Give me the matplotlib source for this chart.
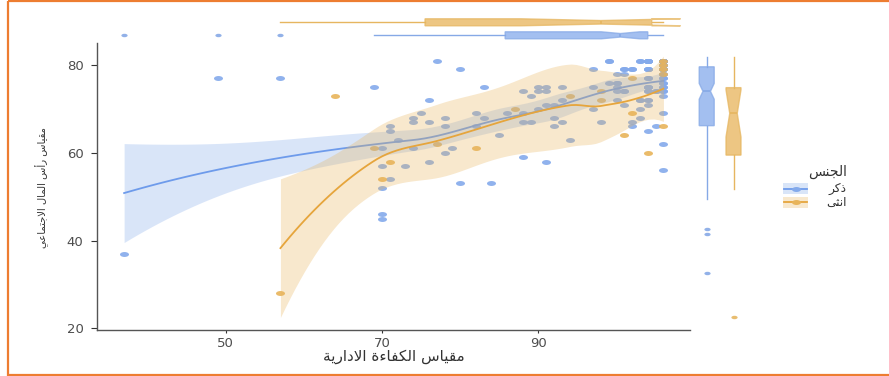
import numpy as np
import matplotlib
matplotlib.use("Agg")
import matplotlib.pyplot as plt
from matplotlib.path import Path
from matplotlib.patches import Rectangle
from matplotlib.lines import Line2D

# ---------------- data ----------------
X_LABEL = "مقياس الكفاءة الادارية"
Y_LABEL = "مقياس رأس المال الاجتماعي"
LEGEND_TITLE = "الجنس"
GROUP_LABELS = ["ذكر", "انثى"]

X_TICKS = [50, 70, 90]
Y_TICKS = [20, 40, 60, 80]

male_x = [37, 49, 57, 69, 70, 70, 70, 70, 70, 71, 71, 71, 72, 73, 74, 74, 74, 75, 76, 76,
          76, 77, 78, 78, 78, 79, 80, 80, 82, 82, 83, 83, 84, 85, 86, 88, 88, 88, 88, 89,
          89, 90, 90, 90, 91, 91, 91, 91, 92, 92, 92, 93, 93, 93, 94, 97, 97, 97, 98, 99,
          99, 100, 100, 100, 100, 100, 101, 101, 101, 101, 102, 102, 102, 103, 103, 103, 103, 104, 104, 104,
          104, 104, 104, 104, 104, 105, 105, 106, 106, 106, 106, 106, 106, 106, 106, 106,
          # overlapping (hidden) points in the dense upper-right corner
          106, 106, 106, 106, 106, 106, 106, 106, 106, 106, 106, 106, 106, 106, 106, 106, 106,
          104, 104, 104, 104, 103, 104, 104,
          99, 101, 102, 104, 104, 104, 106, 106, 106, 106, 104, 105, 100, 103, 104, 101]
male_y = [37, 77, 77, 75, 46, 45, 52, 57, 61, 66, 65, 54, 63, 57, 68, 67, 61, 69, 67, 58,
          72, 81, 68, 66, 60, 61, 79, 53, 69, 66, 75, 68, 53, 64, 69, 74, 69, 67, 59, 73,
          67, 75, 74, 70, 75, 74, 71, 58, 71, 68, 66, 75, 72, 67, 63, 79, 75, 70, 67, 81,
          76, 78, 76, 75, 74, 72, 79, 78, 74, 71, 79, 67, 66, 81, 72, 70, 68, 81, 79, 77,
          75, 74, 72, 71, 65, 74, 66, 81, 77, 76, 75, 74, 73, 69, 62, 56,
          81, 81, 81, 81, 81, 81, 81, 81, 80, 80, 80, 79, 79, 79, 79, 78, 78,
          81, 81, 81, 81, 81, 79, 79,
          81, 79, 79, 77, 75, 75, 77, 76, 75, 74, 74, 74, 76, 72, 72, 74]

female_x = [57, 64, 69, 70, 71, 77, 82, 87, 94, 98, 98, 101, 102, 102, 104, 106, 106, 106, 106, 106]
female_y = [28, 73, 61, 54, 58, 62, 61, 70, 73, 74, 72, 64, 77, 69, 60, 80, 79, 78, 66, 81]

# ---------------- style ----------------
BLUE = "#84AAEB"
BLUE_LINE = "#6E9BEB"
BLUE_BOX_EDGE = "#86A9E6"
ORANGE = "#E8B45A"
ORANGE_LINE = "#E6A53C"
ORANGE_BOX_EDGE = "#E6B660"
RIBBON_ALPHA = 0.3
BORDER = "#ED7D31"
TEXT = "#333333"
W, H = 889, 376

# ---------------- arabic shaping (presentation forms, visual order) ----------------
FOUR = {0x0626: 0xFE89, 0x0628: 0xFE8F, 0x062A: 0xFE95, 0x062B: 0xFE99, 0x062C: 0xFE9D,
        0x062D: 0xFEA1, 0x062E: 0xFEA5, 0x0633: 0xFEB1, 0x0634: 0xFEB5, 0x0635: 0xFEB9,
        0x0636: 0xFEBD, 0x0637: 0xFEC1, 0x0638: 0xFEC5, 0x0639: 0xFEC9, 0x063A: 0xFECD,
        0x0641: 0xFED1, 0x0642: 0xFED5, 0x0643: 0xFED9, 0x0644: 0xFEDD, 0x0645: 0xFEE1,
        0x0646: 0xFEE5, 0x0647: 0xFEE9, 0x064A: 0xFEF1}
TWO = {0x0622: 0xFE81, 0x0623: 0xFE83, 0x0624: 0xFE85, 0x0625: 0xFE87, 0x0627: 0xFE8D,
       0x0629: 0xFE93, 0x062F: 0xFEA9, 0x0630: 0xFEAB, 0x0631: 0xFEAD, 0x0632: 0xFEAF,
       0x0648: 0xFEED}
LAM_ALEF = {0x0622: 0xFEF5, 0x0623: 0xFEF7, 0x0625: 0xFEF9, 0x0627: 0xFEFB}


def _dual(c):
    return ord(c) in FOUR or ord(c) == 0x0649


def _joining(c):
    return _dual(c) or ord(c) in TWO


def shape(s):
    out = []
    i = 0
    prev_join = False
    while i < len(s):
        c = s[i]
        o = ord(c)
        nxt = s[i + 1] if i + 1 < len(s) else None
        if o == 0x0644 and nxt is not None and ord(nxt) in LAM_ALEF:
            out.append(chr(LAM_ALEF[ord(nxt)] + (1 if prev_join else 0)))
            prev_join = False
            i += 2
            continue
        if _dual(c):
            nj = nxt is not None and _joining(nxt)
            idx = {(False, False): 0, (True, False): 1, (False, True): 2, (True, True): 3}[(prev_join, nj)]
            if o == 0x0649:
                out.append(chr([0xFEEF, 0xFEF0, 0xFBE8, 0xFBE9][idx]))
            else:
                out.append(chr(FOUR[o] + idx))
            prev_join = True
        elif o in TWO:
            out.append(chr(TWO[o] + (1 if prev_join else 0)))
            prev_join = False
        elif o == 0x0621:
            out.append("\uFE80")
            prev_join = False
        else:
            out.append(c)
            prev_join = False
        i += 1
    return "".join(reversed(out))


# ---------------- loess as in R (span .75, degree 2, kd-tree + cubic interpolation) ----------------
def local_rows(x, x0, q, degree=2):
    d = np.abs(x - x0)
    h = np.sort(d)[q - 1] + 1e-9
    u = d / h
    w = np.where(u < 1, (1 - u ** 3) ** 3, 0.0)
    X = np.vander(x - x0, degree + 1, increasing=True)
    XtW = X.T * w
    B = np.linalg.solve(XtW @ X, XtW)
    return B[0], B[1]          # value row, slope row


def kd_vertices(x, fc):
    xs = np.sort(x)
    n = len(xs)
    a0, b0 = xs[0], xs[-1]
    mg = 0.005 * max(b0 - a0, 1e-10 * max(abs(a0), abs(b0)) + 1e-30)
    verts = {a0 - mg, b0 + mg}
    stack = [(0, n - 1, a0 - mg, b0 + mg)]
    while stack:
        l, u, a, b = stack.pop()
        if (u - l + 1) <= fc:
            continue
        m = (l + u) // 2
        off = 0
        while True:
            if m + off >= u or m + off < l:
                break
            if xs[m + off] == xs[m + off + 1]:
                off = -off
                if off >= 0:
                    off += 1
            else:
                m = m + off
                break
        v = xs[m]
        if v == a or v == b:
            continue
        verts.add(v)
        stack.append((l, m, a, v))
        stack.append((m + 1, u, v, b))
    return np.array(sorted(verts))


def interp_rows(x, verts, VL, VS, xe):
    out = np.zeros((len(xe), len(x)))
    for k, x0 in enumerate(xe):
        j = int(np.clip(np.searchsorted(verts, x0, side="right") - 1, 0, len(verts) - 2))
        hh = verts[j + 1] - verts[j]
        t = (x0 - verts[j]) / hh
        h00 = 2 * t ** 3 - 3 * t ** 2 + 1
        h10 = t ** 3 - 2 * t ** 2 + t
        h01 = -2 * t ** 3 + 3 * t ** 2
        h11 = t ** 3 - t ** 2
        out[k] = h00 * VL[j] + h10 * hh * VS[j] + h01 * VL[j + 1] + h11 * hh * VS[j + 1]
    return out


def t975(df):
    z = 1.959964
    g1 = (z ** 3 + z) / 4
    g2 = (5 * z ** 5 + 16 * z ** 3 + 3 * z) / 96
    g3 = (3 * z ** 7 + 19 * z ** 5 + 17 * z ** 3 - 15 * z) / 384
    g4 = (79 * z ** 9 + 776 * z ** 7 + 1482 * z ** 5 - 1920 * z ** 3 - 945 * z) / 92160
    return z + g1 / df + g2 / df ** 2 + g3 / df ** 3 + g4 / df ** 4


def smooth(xs, ys, span=0.75, cell=0.2):
    x = np.asarray(xs, float)
    y = np.asarray(ys, float)
    n = len(x)
    q = int(np.floor(n * span))
    fc = int(np.floor(n * span * cell))
    verts = kd_vertices(x, fc)
    VL, VS = zip(*[local_rows(x, v, q) for v in verts])
    VL, VS = np.array(VL), np.array(VS)
    Lf = interp_rows(x, verts, VL, VS, x)
    R = np.eye(n) - Lf
    D = R.T @ R
    d1 = np.trace(D)
    d2 = np.trace(D @ D)
    sigma = np.sqrt(np.sum((y - Lf @ y) ** 2) / d1)
    xe = np.linspace(x.min(), x.max(), 80)
    Le = interp_rows(x, verts, VL, VS, xe)
    fit = Le @ y
    se = sigma * np.sqrt(np.sum(Le ** 2, axis=1))
    t = t975(d1 ** 2 / d2)
    return xe, fit, fit - t * se, fit + t * se


# ellipse marker (the reference is horizontally stretched)
_uc = Path.unit_circle()
ELLIPSE = Path(_uc.vertices * np.array([1.0, 0.55]), _uc.codes)

plt.rcParams["font.family"] = ["DejaVu Sans"]

fig = plt.figure(figsize=(W / 100, H / 100), dpi=100)


def fr(px_l, px_t, px_r, px_b):
    return [px_l / W, 1 - px_b / H, (px_r - px_l) / W, (px_b - px_t) / H]


XL, XR, YT, YB = 97.3, 690.0, 43.3, 330.0
XLIM = (33.57, 109.4)
YLIM = (19.6, 84.95)

ax = fig.add_axes(fr(XL, YT, XR, YB))
ax.scatter(male_x, male_y, marker=ELLIPSE, s=42, color=BLUE, alpha=0.9, linewidths=0, zorder=2)
ax.scatter(female_x, female_y, marker=ELLIPSE, s=42, color=ORANGE, alpha=0.9, linewidths=0, zorder=2)

for xs, ys, fc, lc, z in [(male_x, male_y, BLUE, BLUE_LINE, 3), (female_x, female_y, ORANGE, ORANGE_LINE, 4)]:
    xe, fit, lo, hi = smooth(xs, ys)
    ax.fill_between(xe, lo, hi, color=fc, alpha=RIBBON_ALPHA, linewidth=0, zorder=z)
    ax.plot(xe, fit, color=lc, lw=1.3, zorder=z)

ax.set_xlim(*XLIM)
ax.set_ylim(*YLIM)
ax.set_xticks(X_TICKS)
ax.set_yticks(Y_TICKS)
for s in ["top", "right"]:
    ax.spines[s].set_visible(False)
for s in ["left", "bottom"]:
    ax.spines[s].set_color("#555555")
    ax.spines[s].set_linewidth(1.0)
ax.tick_params(axis="x", direction="out", length=2.5, width=0.8, colors="#333333",
               labelcolor="#4D4D4D", labelsize=9.5, pad=2.5)
ax.tick_params(axis="y", direction="out", length=4, width=0.8, colors="#333333",
               labelcolor="#4D4D4D", labelsize=9.5, pad=6)
ax.set_facecolor("none")

# ---------------- marginal boxplots ----------------
def bprops(face, edge):
    return dict(
        patch_artist=True, notch=True, whis=1.5, showcaps=False,
        boxprops=dict(facecolor=face, edgecolor=edge, linewidth=1.0, alpha=0.75),
        whiskerprops=dict(color=edge, linewidth=1.0),
        medianprops=dict(color=edge, linewidth=1.2),
        flierprops=dict(marker=ELLIPSE, markersize=4.5, markerfacecolor=edge,
                        markeredgecolor="none", alpha=0.9),
    )


ax_top = fig.add_axes(fr(XL, 6, XR, 45))
ax_top.boxplot([female_x], positions=[22.3], widths=7, orientation="horizontal",
               **bprops(ORANGE, ORANGE_BOX_EDGE))
ax_top.boxplot([male_x], positions=[35.3], widths=7, orientation="horizontal",
               **bprops(BLUE, BLUE_BOX_EDGE))
ax_top.set_xlim(*XLIM)
ax_top.set_ylim(45, 6)
ax_top.axis("off")

ax_right = fig.add_axes(fr(XR, YT, 752, YB))
ax_right.boxplot([male_y], positions=[706.7], widths=15, **bprops(BLUE, BLUE_BOX_EDGE))
ax_right.boxplot([female_y], positions=[733.5], widths=15, **bprops(ORANGE, ORANGE_BOX_EDGE))
ax_right.set_xlim(XR, 752)
ax_right.set_ylim(25.35, 83.79)
ax_right.axis("off")

# ---------------- overlay: labels, legend, border ----------------
ov = fig.add_axes([0, 0, 1, 1], zorder=10)
ov.set_xlim(0, W)
ov.set_ylim(H, 0)
ov.axis("off")
ov.patch.set_alpha(0)

ov.text((XL + XR) / 2, 356.5, shape(X_LABEL), ha="center", va="center", fontsize=11, color=TEXT)
ov.text(42, 187, shape(Y_LABEL), ha="center", va="center", rotation=90, fontsize=7.2, color=TEXT)

ov.text(847, 172, shape(LEGEND_TITLE), ha="right", va="center", fontsize=10, color=TEXT)
for yc, lab, fc, lc in [(188.5, GROUP_LABELS[0], BLUE, BLUE_LINE), (202, GROUP_LABELS[1], ORANGE, ORANGE_LINE)]:
    ov.add_patch(Rectangle((783, yc - 5.5), 25, 11, facecolor=fc, alpha=RIBBON_ALPHA, linewidth=0))
    ov.add_line(Line2D([784, 807], [yc, yc], color=lc, lw=1.3))
    ov.plot([795.5], [yc], marker=ELLIPSE, markersize=6.5, color=fc, markeredgewidth=0)
    ov.text(847, yc, shape(lab), ha="right", va="center", fontsize=8.8, color=TEXT)

ov.add_patch(Rectangle((8.3, 1.2), 895, 373.5, fill=False, edgecolor=BORDER, linewidth=1.6, clip_on=False))

fig.savefig("out.png", dpi=100)
